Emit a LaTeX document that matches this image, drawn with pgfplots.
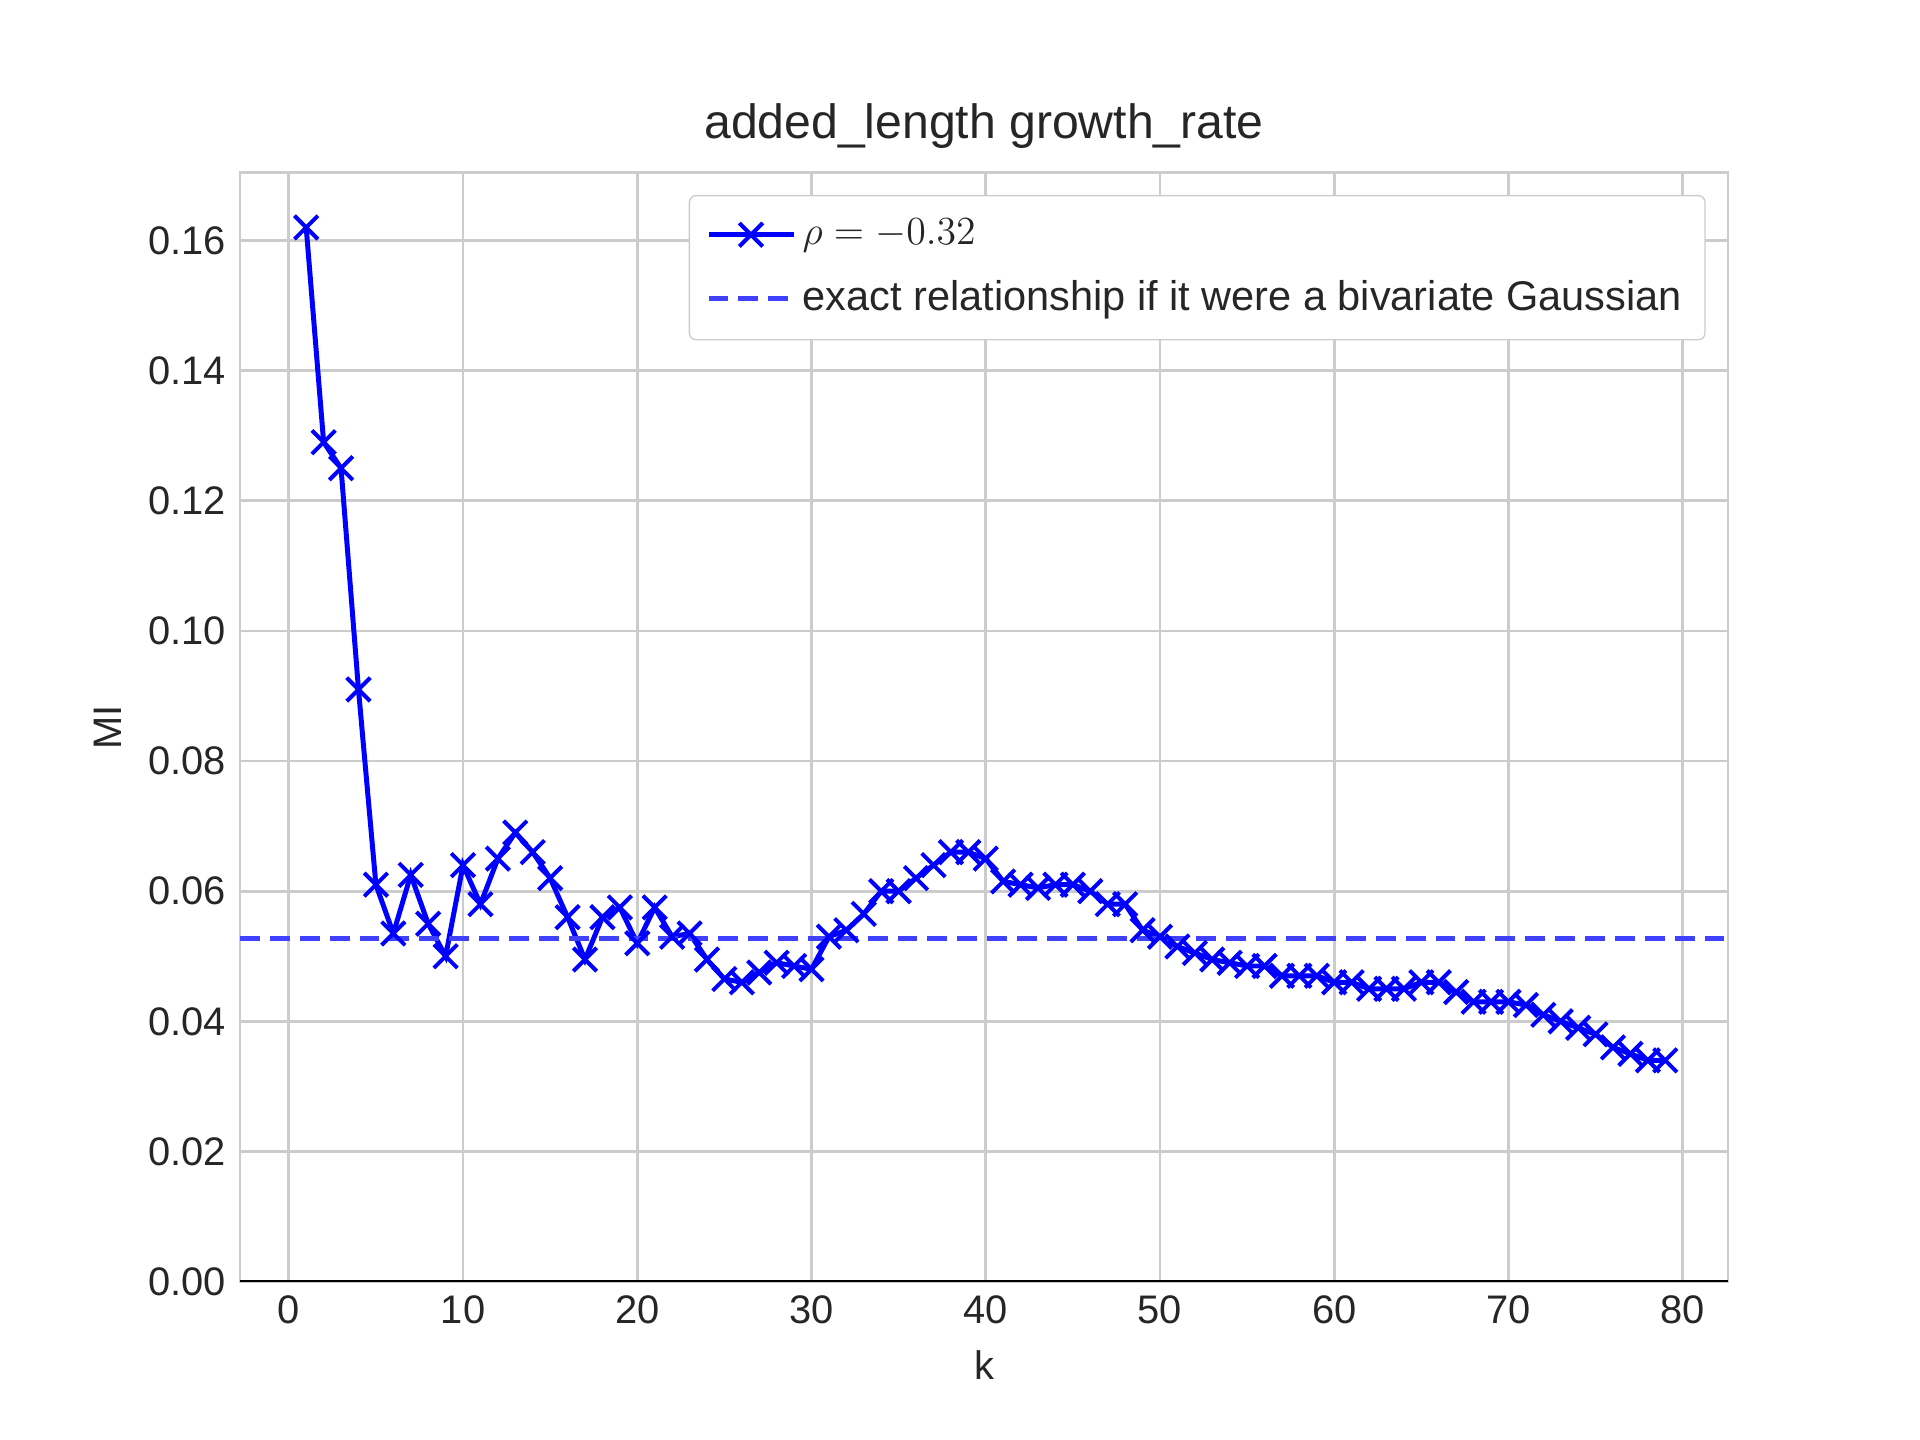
\documentclass[border=0pt]{standalone}
\usepackage{pgfplots}
\pgfplotsset{compat=1.18}
\usepackage{fontspec}
\setmainfont{Liberation Sans}
\definecolor{txt}{HTML}{262626}
\begin{document}
\fontsize{12}{14}\selectfont
\begin{tikzpicture}
\path (0,0) rectangle (8in,6in);
\begin{axis}[at={(1in,0.66in)}, anchor=south west, scale only axis,
 width=6.2in, height=4.62in,
 xmin=-2.8, xmax=82.6, ymin=0, ymax=0.1704,
 xtick={0,10,...,80}, ytick={0,0.02,...,0.16},
 yticklabel style={/pgf/number format/.cd,fixed,fixed zerofill,precision=2},
 /pgf/number format/assume math mode=true,
 ticklabel style={text=txt},
 label style={text=txt},
 grid=major, major grid style={color=black!20, line width=0.8pt},
 axis line style={black!20, line width=0.8pt},
 tick style={draw=none},
 title={added\_length growth\_rate}, title style={font=\fontsize{14.5}{17}\selectfont, text=txt, yshift=-3pt},
 xlabel={k}, ylabel={MI},
 legend pos=north east,
 legend style={draw=black!20, rounded corners=2pt, font=\fontsize{12.5}{15}\selectfont, text=txt, row sep=5pt, inner sep=5pt, at={(0.985,0.98)}},
 legend cell align=left,
 legend image code/.code={\draw[#1] (0cm,0cm) -- (0.9cm,0cm); \draw[#1, only marks] plot coordinates {(0.45cm,0cm)};},
]
\addplot[blue, line width=1.5pt, mark=x, mark size=5pt, mark options={line width=1.2pt}] coordinates {
(1,0.162)(2,0.129)(3,0.125)(4,0.091)(5,0.061)(6,0.0535)(7,0.0625)(8,0.055)(9,0.050)(10,0.064)
(11,0.058)(12,0.065)(13,0.069)(14,0.066)(15,0.062)(16,0.056)(17,0.0495)(18,0.056)(19,0.0575)(20,0.052)
(21,0.0575)(22,0.053)(23,0.0535)(24,0.0495)(25,0.0465)(26,0.046)(27,0.0475)(28,0.049)(29,0.0485)(30,0.048)
(31,0.053)(32,0.054)(33,0.0565)(34,0.060)(35,0.060)(36,0.062)(37,0.064)(38,0.066)(39,0.066)(40,0.065)
(41,0.0615)(42,0.061)(43,0.0605)(44,0.061)(45,0.061)(46,0.060)(47,0.058)(48,0.058)(49,0.054)(50,0.053)
(51,0.0515)(52,0.0505)(53,0.0495)(54,0.049)(55,0.0485)(56,0.0485)(57,0.047)(58,0.047)(59,0.047)(60,0.046)
(61,0.046)(62,0.045)(63,0.045)(64,0.045)(65,0.046)(66,0.046)(67,0.0445)(68,0.043)(69,0.043)(70,0.043)
(71,0.0425)(72,0.041)(73,0.040)(74,0.039)(75,0.038)(76,0.036)(77,0.035)(78,0.034)(79,0.034)};
\addlegendentry{$\rho = -0.32$}
\addplot[blue!75, line width=1.5pt, dash pattern=on 6pt off 3pt] coordinates {(-2.8,0.0527)(82.6,0.0527)};
\addlegendentry{exact relationship if it were a bivariate Gaussian}
\draw[black, line width=0.8pt] (rel axis cs:0,0) -- (rel axis cs:1,0);
\end{axis}
\end{tikzpicture}
\end{document}
